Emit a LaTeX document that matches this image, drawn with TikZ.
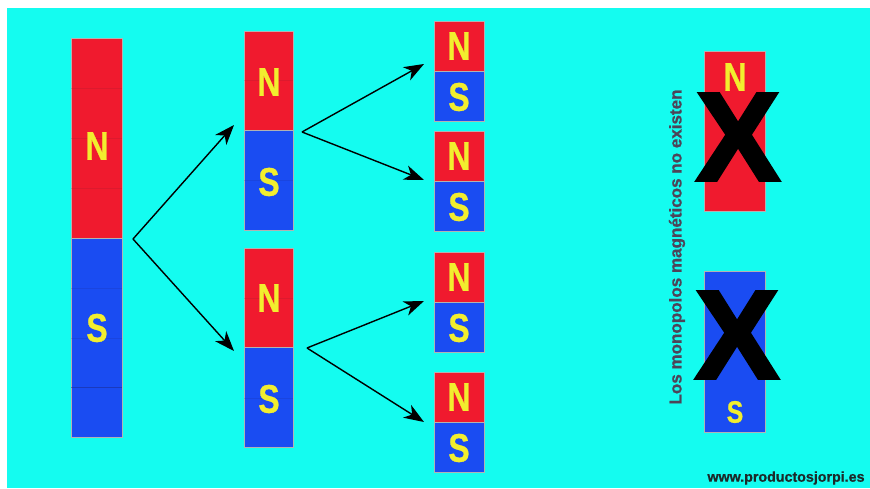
\documentclass[tikz,border=0pt]{standalone}
\usepackage{fontspec}
\setmainfont{Liberation Sans}
\newfontfamily\heavyfont[FakeBold=2.5]{Liberation Sans Bold}
\newfontfamily\polefont[FakeBold=0.8]{Liberation Sans Bold}
\usetikzlibrary{arrows.meta}
\definecolor{bgcyan}{HTML}{14FCF0}
\definecolor{magred}{HTML}{F01A2E}
\definecolor{magblue}{HTML}{1A4CF2}
\definecolor{poleyellow}{HTML}{F2EE2E}
\definecolor{segline}{HTML}{8A1A30}
\definecolor{seglineb}{HTML}{1A2A8A}
\definecolor{notecol}{HTML}{4D4458}
\definecolor{webcol}{HTML}{1C2A2A}
\tikzset{
  half/.style={draw=gray!60, line width=0.4pt, minimum width=#1, inner sep=0pt, anchor=north west, rectangle},
  redhalf/.style={half=#1, fill=magred},
  bluehalf/.style={half=#1, fill=magblue},
  smallpole/.style={text=poleyellow, font=\polefont\fontsize{40}{40}\selectfont, inner sep=0pt},
  cross/.style={text=black, font=\heavyfont\fontsize{126}{126}\selectfont, inner sep=0pt},
  arr/.style={-{Stealth[length=20pt,width=15pt,inset=6pt]}, line width=1.4pt, black},
  seg/.style={line width=0.5pt, opacity=0.18}
}
\newcommand{\sq}[1]{\scalebox{0.8}[1]{#1}}
\begin{document}
\begin{tikzpicture}[x=1pt,y=-1pt]
\useasboundingbox (0,0) rectangle (870,489);
\fill[white] (0,0) rectangle (870,489);
\fill[bgcyan] (7,8) rectangle (870,488);

% big magnet
\node[redhalf=51pt, minimum height=200pt] (bigN) at (71,38) {};
\node[bluehalf=51pt, minimum height=199pt] (bigS) at (71,238) {};
\foreach \yy in {88,138,188} \draw[seg, segline] (71,\yy) -- (122,\yy);
\foreach \yy in {288,338} \draw[seg, seglineb] (71,\yy) -- (122,\yy);
\draw[line width=0.6pt, seglineb, opacity=0.5] (71,387) -- (122,387);
\node[smallpole] (bigNl) at (97,146) {\sq{N}};
\node[smallpole] (bigSl) at (97,328) {\sq{S}};

% medium magnets
\node[redhalf=49pt, minimum height=99pt] (m1N) at (244,31) {};
\node[bluehalf=49pt, minimum height=100pt] (m1S) at (244,130) {};
\draw[seg, segline] (244,80) -- (293,80);
\draw[seg, seglineb] (244,180) -- (293,180);
\node[smallpole] (m1Nl) at (269,82) {\sq{N}};
\node[smallpole] (m1Sl) at (269,182) {\sq{S}};

\node[redhalf=49pt, minimum height=99pt] (m2N) at (244,248) {};
\node[bluehalf=49pt, minimum height=100pt] (m2S) at (244,347) {};
\draw[seg, segline] (244,298) -- (293,298);
\draw[seg, seglineb] (244,398) -- (293,398);
\node[smallpole] (m2Nl) at (269,298) {\sq{N}};
\node[smallpole] (m2Sl) at (269,399) {\sq{S}};

% small magnets
\foreach \i/\t in {1/21,2/131,3/252,4/372}{
  \node[redhalf=50pt, minimum height=50pt] (s\i N) at (434,\t) {};
  \node[bluehalf=50pt, minimum height=50pt] (s\i S) at (434,\t+50) {};
  \node[smallpole] (s\i Nl) at (459,\t+25) {\sq{N}};
  \node[smallpole] (s\i Sl) at (459,\t+76) {\sq{S}};
}

% arrows
\coordinate (v0) at (133,239);
\coordinate (v1) at (302,132);
\coordinate (v2) at (307,348);
\coordinate (t01) at ([xshift=-10pt,yshift=5pt]m1S.north west);
\coordinate (t02) at ([xshift=-10pt,yshift=-4pt]m2S.north west);
\coordinate (t11) at ([xshift=-10pt,yshift=7pt]s1S.north west);
\coordinate (t12) at ([xshift=-10pt,yshift=1pt]s2S.north west);
\coordinate (t21) at ([xshift=-10pt,yshift=1pt]s3S.north west);
\coordinate (t22) at ([xshift=-10pt]s4S.north west);
\draw[arr] (v0) -- (t01);
\draw[arr] (v0) -- (t02);
\draw[arr] (v1) -- (t11);
\draw[arr] (v1) -- (t12);
\draw[arr] (v2) -- (t21);
\draw[arr] (v2) -- (t22);

% monopoles
\node[half=61pt, fill=magred, minimum height=160pt] (monoN) at (704,51) {};
\node[half=61pt, fill=magblue, minimum height=161pt] (monoS) at (704,271) {};
\node[smallpole] (monoNl) at (735,77) {\sq{N}};
\node[smallpole, font=\polefont\fontsize{31}{31}\selectfont] (monoSl) at (735,412) {\sq{S}};
\node[cross] (x1) at (738,137) {X};
\node[cross] (x2) at (737,335) {X};

\node[rotate=90, text=notecol, inner sep=0pt, font=\polefont\fontsize{14}{14}\selectfont] (note) at (677,247) {\resizebox{315pt}{!}{Los monopolos magnéticos no existen}};

\node[text=webcol, inner sep=0pt, font=\polefont\fontsize{13}{13}\selectfont] (web) at (786,478) {\resizebox{157pt}{!}{www.productosjorpi.es}};
\end{tikzpicture}
\end{document}
